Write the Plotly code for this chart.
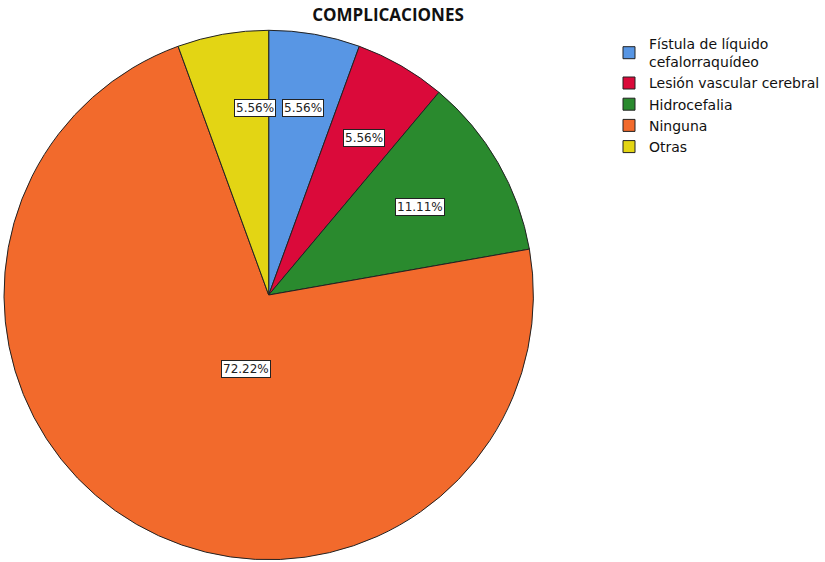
import math
import plotly.graph_objects as go

labels = ["Fístula de líquido<br>cefalorraquídeo", "Lesión vascular cerebral", "Hidrocefalia", "Ninguna", "Otras"]
values = [5.56, 5.56, 11.11, 72.22, 5.56]
colors = ["#5896E4", "#DA0A3A", "#2A8A2E", "#F26A2C", "#E3D514"]
label_radius = [0.75, 0.72, 0.66, 0.36, 0.75]

W, H = 825, 562
cx, cy, R = 270, 295, 266
dom_x = [(cx - R) / W, (cx + R) / W]
dom_y = [1 - (cy + R) / H, 1 - (cy - R) / H]

fig = go.Figure(go.Pie(
    labels=labels, values=values, sort=False, direction="clockwise", rotation=0,
    marker=dict(colors=colors, line=dict(color="#222222", width=1)),
    textinfo="none", hoverinfo="label+percent",
    domain=dict(x=dom_x, y=dom_y),
))

total = sum(values)
acc = 0
anns = []
for v, rf in zip(values, label_radius):
    mid = (acc + v / 2) / total * 2 * math.pi
    acc += v
    px = cx + rf * R * math.sin(mid)
    py = cy - rf * R * math.cos(mid)
    anns.append(dict(x=px / W, y=1 - py / H, xref="paper", yref="paper",
                     text=f"{v:.2f}%", showarrow=False,
                     font=dict(family="DejaVu Sans", size=12, color="#222222"),
                     bgcolor="white", bordercolor="#222222", borderwidth=1, borderpad=1))

fig.update_layout(
    width=W, height=H, margin=dict(l=0, r=0, t=0, b=0),
    paper_bgcolor="white", plot_bgcolor="white",
    title=dict(text="<b>COMPLICACIONES</b>", x=388 / W, xanchor="center", y=1 - 15 / H, yanchor="middle",
               font=dict(family="Open Sans", size=17, color="#111111")),
    legend=dict(x=612 / W, y=1 - 28 / H, xanchor="left", yanchor="top",
                font=dict(family="DejaVu Sans", size=14, color="#111111"),
                itemwidth=30, tracegroupgap=0),
    annotations=anns,
)

fig.write_html("out.html")
